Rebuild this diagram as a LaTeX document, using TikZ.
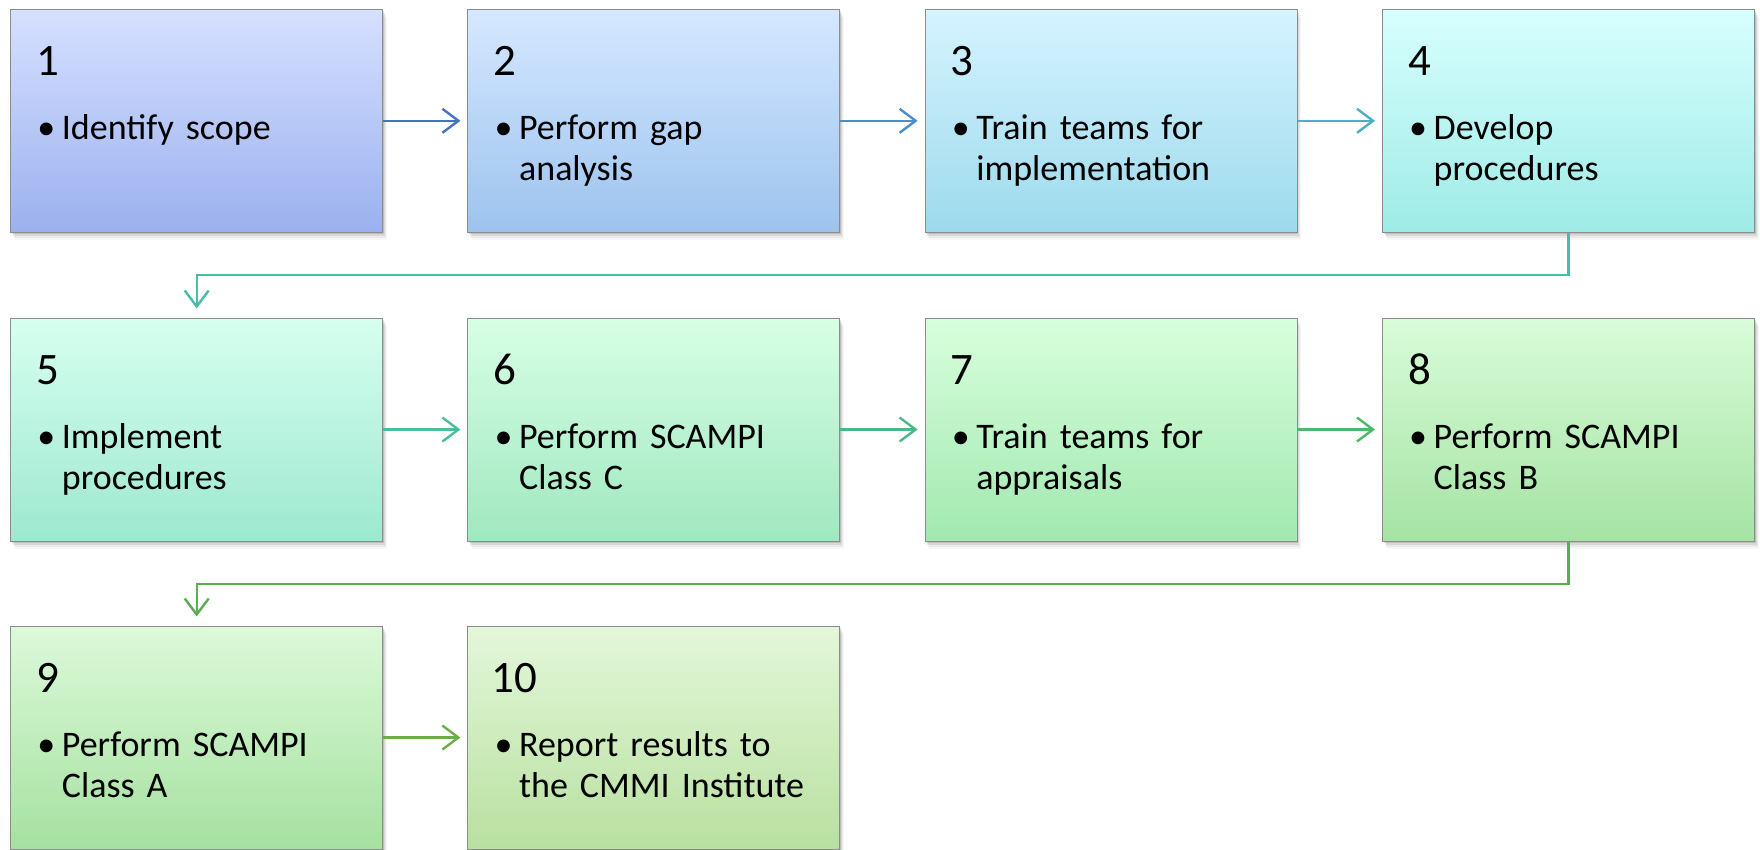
\documentclass[tikz,border=0pt]{standalone}
\usepackage{fontspec}
\setmainfont{Carlito}
\usetikzlibrary{arrows.meta, shadows}

\definecolor{topA}{RGB}{214,224,255}\definecolor{botA}{RGB}{155,177,238}
\definecolor{topB}{RGB}{213,232,255}\definecolor{botB}{RGB}{157,195,238}
\definecolor{topC}{RGB}{214,243,255}\definecolor{botC}{RGB}{157,218,236}
\definecolor{topD}{RGB}{216,255,255}\definecolor{botD}{RGB}{158,235,230}
\definecolor{topE}{RGB}{215,255,240}\definecolor{botE}{RGB}{158,232,208}
\definecolor{topF}{RGB}{216,255,229}\definecolor{botF}{RGB}{160,232,192}
\definecolor{topG}{RGB}{216,255,220}\definecolor{botG}{RGB}{162,232,176}
\definecolor{topH}{RGB}{217,252,217}\definecolor{botH}{RGB}{165,227,164}
\definecolor{topI}{RGB}{221,249,218}\definecolor{botI}{RGB}{165,225,160}
\definecolor{topJ}{RGB}{228,247,218}\definecolor{botJ}{RGB}{184,224,160}

\definecolor{arrA}{RGB}{68,114,196}
\definecolor{arrB}{RGB}{74,143,203}
\definecolor{arrC}{RGB}{76,176,196}
\definecolor{arrD}{RGB}{70,191,168}
\definecolor{arrE}{RGB}{72,190,155}
\definecolor{arrF}{RGB}{76,184,136}
\definecolor{arrG}{RGB}{76,184,106}
\definecolor{arrH}{RGB}{86,176,80}
\definecolor{arrI}{RGB}{106,174,72}

\begin{document}
\begin{tikzpicture}[x=1pt, y=-1pt,
  stepbox/.style={draw=black!45, line width=1pt, minimum width=372pt, minimum height=223pt, inner sep=0pt,
    general shadow={shadow xshift=1pt, shadow yshift=-2pt, fill=black, opacity=.12},
    general shadow={shadow xshift=2pt, shadow yshift=-4pt, fill=black, opacity=.08},
    general shadow={shadow xshift=3pt, shadow yshift=-6pt, fill=black, opacity=.05},
    general shadow={shadow xshift=4pt, shadow yshift=-8pt, fill=black, opacity=.03}},
  numtext/.style={anchor=base west, inner sep=0pt, font=\fontsize{45}{54}\selectfont},
  bultext/.style={anchor=base west, inner sep=0pt, font=\fontsize{36}{41}\selectfont},
  itemtext/.style={anchor=base west, inner sep=0pt, text width=310pt, align=left, font=\fontsize{36}{41}\selectfont},
  conn/.style={line width=2.4pt, -{Straight Barb[length=16pt, width=24pt]}, shorten >=7pt}]
\useasboundingbox (0,0) rectangle (1760,849);

% row 1
\node[stepbox, top color=topA, bottom color=botA] (b1) at (196.7,120.8) {};
\node[numtext] (n1) at ([shift={(26,66.5)}]b1.north west) {1};
\node[bultext] (d1) at ([shift={(27,131)}]b1.north west) {\textbullet};
\node[itemtext] (t1) at ([shift={(51.5,131)}]b1.north west) {Identify scope};

\node[stepbox, top color=topB, bottom color=botB] (b2) at (653.9,120.8) {};
\node[numtext] (n2) at ([shift={(26,66.5)}]b2.north west) {2};
\node[bultext] (d2) at ([shift={(27,131)}]b2.north west) {\textbullet};
\node[itemtext] (t2) at ([shift={(51.5,131)}]b2.north west) {Perform gap\\analysis};

\node[stepbox, top color=topC, bottom color=botC] (b3) at (1111.1,120.8) {};
\node[numtext] (n3) at ([shift={(26,66.5)}]b3.north west) {3};
\node[bultext] (d3) at ([shift={(27,131)}]b3.north west) {\textbullet};
\node[itemtext] (t3) at ([shift={(51.5,131)}]b3.north west) {Train teams for\\implementation};

\node[stepbox, top color=topD, bottom color=botD] (b4) at (1568.5,120.8) {};
\node[numtext] (n4) at ([shift={(26,66.5)}]b4.north west) {4};
\node[bultext] (d4) at ([shift={(27,131)}]b4.north west) {\textbullet};
\node[itemtext] (t4) at ([shift={(51.5,131)}]b4.north west) {Develop\\procedures};

% row 2
\node[stepbox, top color=topE, bottom color=botE] (b5) at (196.7,429.5) {};
\node[numtext] (n5) at ([shift={(26,66.5)}]b5.north west) {5};
\node[bultext] (d5) at ([shift={(27,131)}]b5.north west) {\textbullet};
\node[itemtext] (t5) at ([shift={(51.5,131)}]b5.north west) {Implement\\procedures};

\node[stepbox, top color=topF, bottom color=botF] (b6) at (653.9,429.5) {};
\node[numtext] (n6) at ([shift={(26,66.5)}]b6.north west) {6};
\node[bultext] (d6) at ([shift={(27,131)}]b6.north west) {\textbullet};
\node[itemtext] (t6) at ([shift={(51.5,131)}]b6.north west) {Perform SCAMPI\\Class C};

\node[stepbox, top color=topG, bottom color=botG] (b7) at (1111.1,429.5) {};
\node[numtext] (n7) at ([shift={(26,66.5)}]b7.north west) {7};
\node[bultext] (d7) at ([shift={(27,131)}]b7.north west) {\textbullet};
\node[itemtext] (t7) at ([shift={(51.5,131)}]b7.north west) {Train teams for\\appraisals};

\node[stepbox, top color=topH, bottom color=botH] (b8) at (1568.5,429.5) {};
\node[numtext] (n8) at ([shift={(26,66.5)}]b8.north west) {8};
\node[bultext] (d8) at ([shift={(27,131)}]b8.north west) {\textbullet};
\node[itemtext] (t8) at ([shift={(51.5,131)}]b8.north west) {Perform SCAMPI\\Class B};

% row 3
\node[stepbox, top color=topI, bottom color=botI] (b9) at (196.7,737.5) {};
\node[numtext] (n9) at ([shift={(26,66.5)}]b9.north west) {9};
\node[bultext] (d9) at ([shift={(27,131)}]b9.north west) {\textbullet};
\node[itemtext] (t9) at ([shift={(51.5,131)}]b9.north west) {Perform SCAMPI\\Class A};

\node[stepbox, top color=topJ, bottom color=botJ] (b10) at (653.9,737.5) {};
\node[numtext] (n10) at ([shift={(24,66.5)}]b10.north west) {10};
\node[bultext] (d10) at ([shift={(27,131)}]b10.north west) {\textbullet};
\node[itemtext] (t10) at ([shift={(51.5,131)}]b10.north west) {Report results to\\the CMMI Institute};

% connectors
\draw[conn, arrA] (b1) -- (b2);
\draw[conn, arrB] (b2) -- (b3);
\draw[conn, arrC] (b3) -- (b4);
\draw[conn, arrD, shorten >=9pt] (b4.south) -- ++(0,42.4) -| (b5.north);
\draw[conn, arrE] (b5) -- (b6);
\draw[conn, arrF] (b6) -- (b7);
\draw[conn, arrG] (b7) -- (b8);
\draw[conn, arrH, shorten >=9pt] (b8.south) -- ++(0,42.4) -| (b9.north);
\draw[conn, arrI] (b9) -- (b10);
\end{tikzpicture}
\end{document}
